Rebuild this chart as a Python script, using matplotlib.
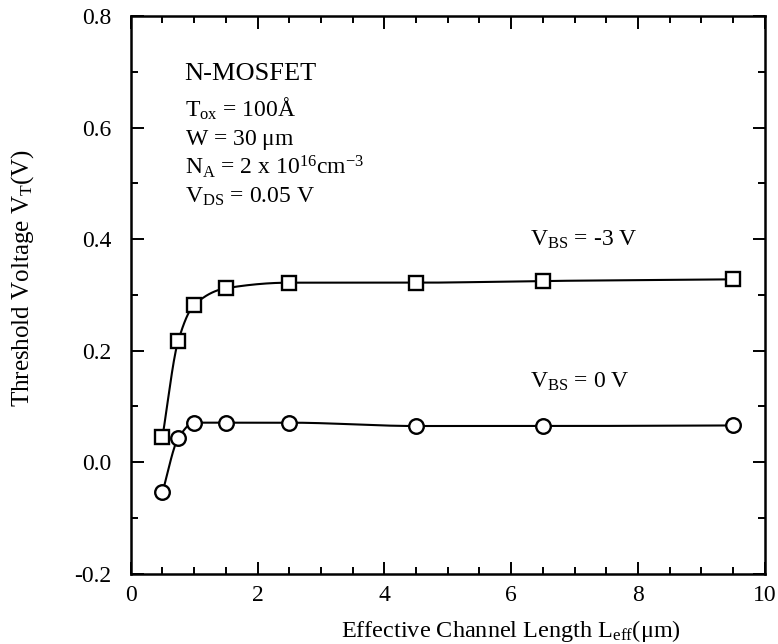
import numpy as np
import matplotlib
matplotlib.use("Agg")
import matplotlib.pyplot as plt
from matplotlib.ticker import MultipleLocator

plt.rcParams['font.family'] = ['Liberation Serif', 'DejaVu Serif']
plt.rcParams['mathtext.fontset'] = 'custom'
plt.rcParams['mathtext.rm'] = 'Liberation Serif'
plt.rcParams['mathtext.it'] = 'Liberation Serif'
plt.rcParams['mathtext.default'] = 'rm'

# ---- data ----
l_eff = [0.5, 0.75, 1.0, 1.5, 2.5, 4.5, 6.5, 9.5]
vt_bs_m3 = [0.045, 0.218, 0.282, 0.312, 0.322, 0.322, 0.325, 0.328]
vt_bs_0 = [-0.054, 0.043, 0.071, 0.071, 0.071, 0.065, 0.065, 0.066]


def pchip(x, y, xs):
    # monotone cubic through the points, for the smooth guide line
    x = np.asarray(x, float)
    y = np.asarray(y, float)
    h = np.diff(x)
    d = np.diff(y) / h
    m = np.zeros_like(y)
    for k in range(1, len(x) - 1):
        if d[k - 1] * d[k] > 0:
            w1 = 2 * h[k] + h[k - 1]
            w2 = h[k] + 2 * h[k - 1]
            m[k] = (w1 + w2) / (w1 / d[k - 1] + w2 / d[k])
    m[0] = d[0]
    m[-1] = d[-1]
    idx = np.clip(np.searchsorted(x, xs) - 1, 0, len(h) - 1)
    t = (xs - x[idx]) / h[idx]
    h00 = 2 * t**3 - 3 * t**2 + 1
    h10 = t**3 - 2 * t**2 + t
    h01 = -2 * t**3 + 3 * t**2
    h11 = t**3 - t**2
    return (h00 * y[idx] + h10 * h[idx] * m[idx]
            + h01 * y[idx + 1] + h11 * h[idx] * m[idx + 1])


fig = plt.figure(figsize=(7.78, 6.44), dpi=100)
ax = fig.add_axes([0.168, 0.109, 0.815, 0.866])

xs = np.linspace(l_eff[0], l_eff[-1], 600)
ax.plot(xs, pchip(l_eff, vt_bs_m3, xs), color='black', lw=1.5)
ax.plot(xs, pchip(l_eff, vt_bs_0, xs), color='black', lw=1.5)
ax.plot(l_eff, vt_bs_m3, ls='none', marker='s', ms=10.5, mfc='white',
        mec='black', mew=1.7)
ax.plot(l_eff, vt_bs_0, ls='none', marker='o', ms=10.5, mfc='white',
        mec='black', mew=1.7)

ax.set_xlim(0, 10)
ax.set_ylim(-0.2, 0.8)
ax.xaxis.set_major_locator(MultipleLocator(2))
ax.xaxis.set_minor_locator(MultipleLocator(0.5))
ax.yaxis.set_minor_locator(MultipleLocator(0.1))
ax.set_yticks([-0.2, 0.0, 0.2, 0.4, 0.6, 0.8])
ax.set_yticklabels(['-0.2', '0.0', '0.2', '0.4', '0.6', '0.8'])
ax.tick_params(which='both', direction='in', top=True, right=True,
               labelsize=17, width=1.4)
ax.tick_params(which='major', length=9)
ax.tick_params(which='minor', length=5)
ax.tick_params(axis='x', which='major', pad=8)
ax.tick_params(axis='y', which='major', pad=14)
for s in ax.spines.values():
    s.set_linewidth(1.8)

ax.set_xlabel(r'Effective Channel Length L$_{\rm eff}$($\mu$m)', fontsize=17.5)
ax.xaxis.set_label_coords(0.60, -0.08)
ax.set_ylabel(r'Threshold Voltage V$_{\rm T}$(V)', fontsize=18)
ax.yaxis.set_label_coords(-0.15, 0.53)

ax.text(0.85, 0.685, 'N-MOSFET', fontsize=19, va='baseline')
params = [r'T$_{\rm ox}$ = 100Å',
          r'W = 30 $\mu$m',
          r'N$_{\rm A}$ = 2 x 10$^{16}$cm$^{-3}$',
          r'V$_{\rm DS}$ = 0.05 V']
for i, p in enumerate(params):
    ax.text(0.85, 0.619 - i * 0.051, p, fontsize=17, va='baseline')

ax.text(6.3, 0.389, r'V$_{\rm BS}$ = -3 V', fontsize=17, va='baseline')
ax.text(6.3, 0.133, r'V$_{\rm BS}$ = 0 V', fontsize=17, va='baseline')

fig.savefig('out.png', dpi=100)
